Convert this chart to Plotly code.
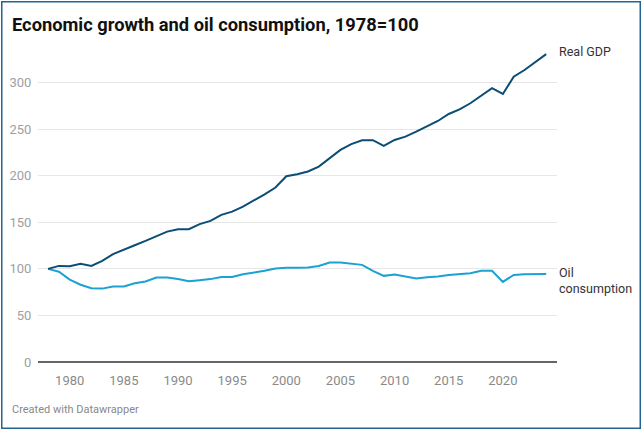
import plotly.graph_objects as go

years = list(range(1978, 2025))
real_gdp = [100, 103.2, 102.8, 105.4, 103.2, 108.6, 115.8, 121.0, 125.4, 130.0,
            135.4, 140.0, 142.6, 142.6, 148.0, 151.5, 158.0, 161.5, 166.9, 173.3,
            180.0, 187.3, 199.5, 201.6, 204.6, 209.8, 218.7, 227.7, 234.0, 238.0,
            238.2, 232.0, 238.4, 242.0, 247.3, 252.7, 258.8, 266.3, 271.3, 277.8,
            286.0, 294.0, 287.8, 306.3, 313.5, 322.0, 330.6]
oil = [100, 97.0, 88.5, 83.0, 79.3, 78.8, 81.0, 81.0, 84.6, 86.4,
       90.7, 90.7, 89.0, 86.6, 87.8, 89.0, 91.2, 91.2, 94.3, 96.0,
       97.9, 100.3, 101.3, 101.3, 101.5, 103.0, 106.8, 106.8, 105.2, 104.3,
       97.9, 92.5, 93.9, 91.7, 89.6, 91.0, 91.7, 93.5, 94.3, 95.4,
       97.9, 97.9, 86.0, 93.5, 94.3, 94.6, 94.6]
y_ticks = [0, 50, 100, 150, 200, 250, 300]
x_ticks = [1980, 1985, 1990, 1995, 2000, 2005, 2010, 2015, 2020]

title = "Economic growth and oil consumption, 1978=100"
credit = "Created with Datawrapper"
gdp_label = "Real GDP"
oil_label = "Oil<br>consumption"

W, H = 641, 429
L, R, T, B = 38, 84, 50, 67
pw, ph = W - L - R, H - T - B

fig = go.Figure()
fig.add_trace(go.Scatter(x=years, y=oil, mode="lines",
                         line=dict(color="#1ba1d3", width=2), hoverinfo="skip"))
fig.add_trace(go.Scatter(x=years, y=real_gdp, mode="lines",
                         line=dict(color="#0b4d75", width=2), hoverinfo="skip"))

fig.update_layout(
    width=W, height=H,
    margin=dict(l=L, r=R, t=T, b=B, autoexpand=False),
    paper_bgcolor="white", plot_bgcolor="white",
    showlegend=False,
    font=dict(family="Roboto, sans-serif", size=13, color="#999999"),
    xaxis=dict(range=[1977.07, 2025.0], tickvals=x_ticks, showgrid=False,
               zeroline=False, showline=False, ticks="outside", ticklen=6,
               tickcolor="rgba(0,0,0,0)", tickfont=dict(size=13, color="#8a8a8a")),
    yaxis=dict(range=[0, 335], tickvals=y_ticks, showgrid=True,
               gridcolor="#e6e6e6", gridwidth=1, zeroline=True,
               zerolinecolor="#666666", zerolinewidth=2, showline=False,
               ticks="outside", ticklen=3, tickcolor="rgba(0,0,0,0)",
               tickfont=dict(size=13, color="#a0a0a0")),
)

def px_x(p):
    return (p - L) / pw

def px_y(p):
    return (H - B - p) / ph

fig.add_annotation(text="<b>" + title + "</b>", xref="paper", yref="paper",
                   x=px_x(10), y=px_y(24), xanchor="left", yanchor="middle",
                   showarrow=False,
                   font=dict(family="Roboto", size=18.3, color="#111111"))
fig.add_annotation(text=credit, xref="paper", yref="paper",
                   x=px_x(10), y=px_y(410), xanchor="left", yanchor="middle",
                   showarrow=False, font=dict(size=11, color="#888888"))
fig.add_annotation(text=gdp_label, xref="paper", yref="y",
                   x=1, y=real_gdp[-1], xanchor="left", yanchor="middle",
                   xshift=0, yshift=3, showarrow=False, align="left",
                   font=dict(size=12.5, color="#333333"))
fig.add_annotation(text=oil_label, xref="paper", yref="y",
                   x=1, y=oil[-1], xanchor="left", yanchor="top",
                   yshift=11, showarrow=False, align="left",
                   font=dict(size=12.5, color="#333333"))

# outer frame drawn as an empty bordered annotation box
fig.add_annotation(text="", xref="paper", yref="paper",
                   x=px_x(W / 2), y=px_y(H / 2), xanchor="center", yanchor="middle",
                   width=W - 4, height=H - 4, borderpad=0, borderwidth=1.5,
                   bordercolor="#23658f", showarrow=False)

fig.write_html("out.html", config={"displayModeBar": False},
               post_script="document.body.style.margin='0';document.body.style.overflow='hidden';")
